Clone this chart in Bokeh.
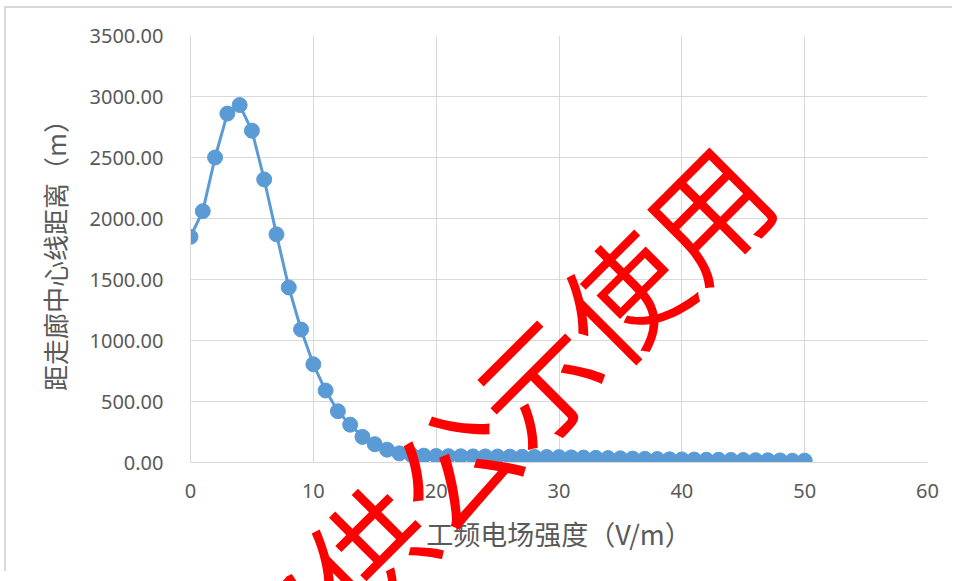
from bokeh.plotting import figure
from bokeh.models import Range1d, FixedTicker, NumeralTickFormatter, ColumnDataSource, Div
from bokeh.layouts import column
from bokeh.embed import file_html
from bokeh.resources import INLINE

# Data
field_strength = list(range(0, 51))
distance = [1850, 2060, 2500, 2860, 2930, 2720, 2320, 1870, 1435, 1090,
            805, 590, 420, 310, 210, 150, 105, 75, 62, 56,
            53, 52, 51, 50, 50, 49, 48, 47, 46, 45,
            44, 42, 40, 38, 36, 34, 32, 30, 28, 26,
            25, 24, 23, 22, 21, 20, 19, 18, 17, 14, 15]
x_ticks = [0, 10, 20, 30, 40, 50, 60]
y_ticks = [0, 500, 1000, 1500, 2000, 2500, 3000, 3500]
x_title = "工频电场强度（V/m）"
y_title = "距走廊中心线距离（m）"
watermark = "仅供公示使用"

src = ColumnDataSource(dict(x=field_strength, y=distance))

p = figure(width=948, height=565, output_backend="svg", toolbar_location=None,
           x_range=Range1d(0, 60), y_range=Range1d(0, 3500),
           min_border_left=190, min_border_right=21, min_border_top=35, min_border_bottom=103)
p.outline_line_color = None
p.background_fill_color = "white"
p.border_fill_color = "white"

grid_c = "#D9D9D9"
p.xgrid.ticker = FixedTicker(ticks=x_ticks)
p.ygrid.ticker = FixedTicker(ticks=y_ticks)
p.xgrid.grid_line_color = grid_c
p.ygrid.grid_line_color = grid_c
p.xgrid.grid_line_width = 1
p.ygrid.grid_line_width = 1

for ax in (p.xaxis[0], p.yaxis[0]):
    ax.axis_line_color = grid_c
    ax.major_tick_line_color = None
    ax.minor_tick_line_color = None
    ax.major_tick_out = 0
    ax.major_tick_in = 0
    ax.major_label_text_font = "Noto Sans"
    ax.major_label_text_font_size = "20px"
    ax.major_label_text_color = "#595959"
    ax.axis_label_text_font = "Noto Sans CJK SC"
    ax.axis_label_text_font_style = "normal"
    ax.axis_label_text_color = "#595959"

p.xaxis.axis_label_text_font_size = "27px"
p.yaxis.axis_label_text_font_size = "26px"
p.xaxis.ticker = FixedTicker(ticks=x_ticks)
p.yaxis.ticker = FixedTicker(ticks=y_ticks)
p.yaxis.formatter = NumeralTickFormatter(format="0.00")
p.xaxis.major_label_standoff = 21
p.yaxis.major_label_standoff = 27
p.xaxis.axis_label = x_title
p.yaxis.axis_label = y_title
p.xaxis.axis_label_standoff = 13
p.yaxis.axis_label_standoff = 14

p.line("x", "y", source=src, line_color="#5B9BD5", line_width=3)
p.scatter("x", "y", source=src, size=15, fill_color="#5B9BD5", line_color="#5B9BD5")

frame_box = Div(text="", styles={
    "position": "absolute", "left": "-1px", "top": "1px",
    "width": "962px", "height": "578px",
    "border-left": "2px solid #D9D9D9", "border-top": "2px solid #D9D9D9",
    "pointer-events": "none", "z-index": "5"})

wm = Div(text=watermark, styles={
    "position": "absolute", "left": "488px", "top": "416px",
    "transform": "translate(-50%, -50%) rotate(-45deg)",
    "white-space": "nowrap", "font-family": "'Noto Sans CJK SC'",
    "font-size": "120px", "line-height": "1", "color": "#FF0000",
    "pointer-events": "none", "z-index": "10"})

layout = column(p, frame_box, wm)
open("out.html", "w").write(file_html(layout, INLINE))
